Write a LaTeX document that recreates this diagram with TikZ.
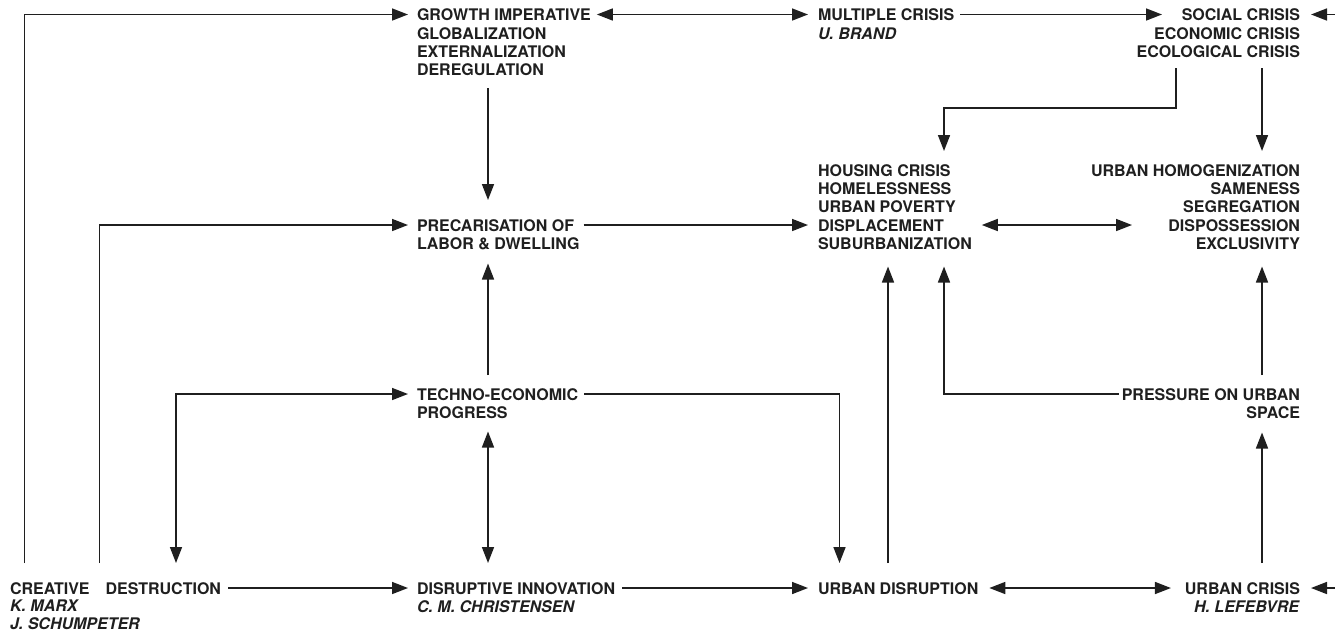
\documentclass[tikz,border=0pt]{standalone}
\usepackage{fontspec}
\setmainfont{TeX Gyre Heros}
\usepackage{xcolor}
\usepackage{tikz}
\usetikzlibrary{calc,arrows.meta,positioning}

\newcommand{\crisisfont}{\fontsize{16}{18.3}\selectfont\bfseries}

\tikzset{
  item/.style={font=\crisisfont, text=black!88, inner sep=0pt, outer sep=0pt,
               align=left, anchor=north west},
  itemr/.style={item, align=right, anchor=north east},
  flow/.style={black!88, line width=1.6pt, line cap=butt,
               -{Triangle[length=16pt,width=12pt]}},
  flowboth/.style={flow, {Triangle[length=16pt,width=12pt]}-{Triangle[length=16pt,width=12pt]}},
}

\begin{document}
\begin{tikzpicture}[x=1pt, y=-1pt, line join=miter]

\useasboundingbox (0,0) rectangle (1335,630);

% ---------------------------------------------------------
% Top row
% ---------------------------------------------------------
\node[item]  (growth)   at (417,9)  {GROWTH IMPERATIVE\\GLOBALIZATION\\EXTERNALIZATION\\DEREGULATION};
\node[item]  (multiple) at (818,9)  {MULTIPLE CRISIS\\\textit{U. BRAND}};
\node[itemr] (crises)   at (1300,9) {SOCIAL CRISIS\\ECONOMIC CRISIS\\ECOLOGICAL CRISIS};

% ---------------------------------------------------------
% Middle rows
% ---------------------------------------------------------
\node[item]  (precar)   at (417,219.5)  {PRECARISATION OF\\LABOR \& DWELLING};
\node[item]  (housing)  at (818,164.5)  {HOUSING CRISIS\\HOMELESSNESS\\URBAN POVERTY\\DISPLACEMENT\\SUBURBANIZATION};
\node[itemr] (homog)    at (1300,164.5) {URBAN HOMOGENIZATION\\SAMENESS\\SEGREGATION\\DISPOSSESSION\\EXCLUSIVITY};
\node[item]  (techno)   at (417,388.5)  {TECHNO-ECONOMIC\\PROGRESS};
\node[itemr] (pressure) at (1300,388.5) {PRESSURE ON URBAN\\SPACE};

% ---------------------------------------------------------
% Bottom row
% ---------------------------------------------------------
\node[item, font=\fontsize{16}{17.4}\selectfont\bfseries]
             (creative)   at (10,582.5)   {CREATIVE\quad DESTRUCTION\\\textit{K. MARX}\\\textit{J. SCHUMPETER}};
\node[item]  (disruptive) at (417,582.5)  {DISRUPTIVE INNOVATION\\\textit{C. M. CHRISTENSEN}};
\node[item]  (udisrupt)   at (818,582.5)  {URBAN DISRUPTION};
\node[itemr] (ucrisis)    at (1300,582.5) {URBAN CRISIS\\\textit{H. LEFEBVRE}};

% free ends at the right border
\coordinate (edgeT) at (1335,14.5);
\coordinate (edgeB) at (1335,588);

% ---------------------------------------------------------
% Connectors, left part
% ---------------------------------------------------------
\draw[flow] ($(creative.north west)+(14.5,-19.5)$) |- ($(growth.north west)+(-9,5.5)$);
\draw[flow] ($(creative.north west)+(89.5,-19.5)$) |- ($(precar.north west)+(-9,5.5)$);
\draw[flowboth] ($(creative.north west)+(166,-19.5)$) |- ($(techno.north west)+(-9,5.5)$);
\draw[flow] ($(creative.north east)+(7,5.5)$) -- ($(disruptive.north west)+(-9,5.5)$);

\draw[flow] ($(growth.north west)+(71,79)$) -- ($(precar.north west)+(71,-19.5)$);
\draw[flow] ($(techno.north west)+(71,-13.5)$) -- ($(precar.north west)+(71,44)$);
\draw[flowboth] ($(disruptive.north west)+(71,-19.5)$) -- ($(techno.north west)+(71,43)$);

% ---------------------------------------------------------
% Connectors, middle part
% ---------------------------------------------------------
\draw[flowboth] ($(growth.north east)+(6,5.5)$) -- ($(multiple.north west)+(-10,5.5)$);
\draw[flow] ($(multiple.north east)+(6,5.5)$) -- ($(crises.north east)+(-138,5.5)$);
\draw[flow] ($(precar.north east)+(4,5.5)$) -- ($(housing.north west)+(-10,60.5)$);
\draw[flow] ($(techno.north east)+(6,5.5)$) -| ($(udisrupt.north west)+(21.5,-19.5)$);
\draw[flow] ($(disruptive.north east)+(7,5.5)$) -- ($(udisrupt.north west)+(-10,5.5)$);
\draw[flow] ($(udisrupt.north west)+(70,-19.5)$) -- ($(housing.north west)+(70,102)$);

% ---------------------------------------------------------
% Connectors, right part
% ---------------------------------------------------------
\draw[flow] ($(crises.north east)+(-124,59)$) -- ++(0,40) -| ($(housing.north west)+(126,-13.5)$);
\draw[flow] ($(crises.north east)+(-38,59)$) -- ($(homog.north east)+(-38,-13.5)$);
\draw[flowboth] ($(housing.north east)+(10,60.5)$) -- ($(homog.north east)+(-168,60.5)$);
\draw[flow] ($(pressure.north west)+(-3,5.5)$) -| ($(housing.north west)+(126,102)$);
\draw[flow] ($(pressure.north east)+(-38,-13.5)$) -- ($(homog.north east)+(-38,102)$);
\draw[flow] ($(ucrisis.north east)+(-38,-19.5)$) -- ($(pressure.north east)+(-38,44)$);
\draw[flowboth] ($(udisrupt.north east)+(11,5.5)$) -- ($(ucrisis.north west)+(-14,5.5)$);

\draw[flow] (edgeT) -- ($(crises.north east)+(11,5.5)$);
\draw[flow] (edgeB) -- ($(ucrisis.north east)+(11,5.5)$);

\end{tikzpicture}
\end{document}
